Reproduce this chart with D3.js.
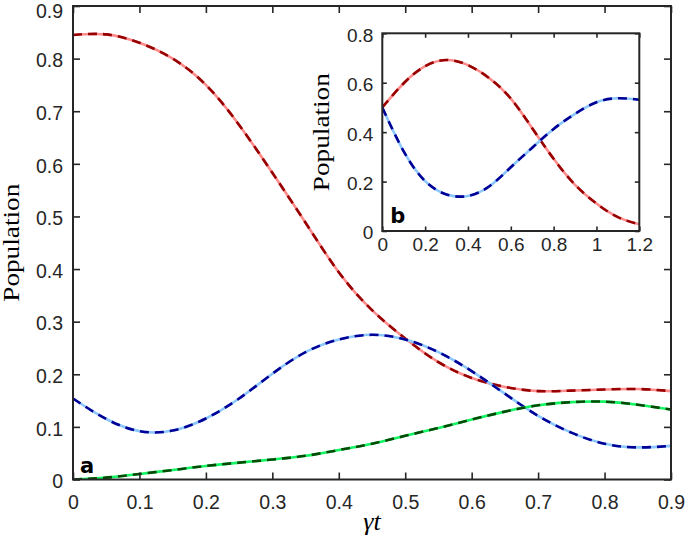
<!DOCTYPE html>
<html>
<head>
<meta charset="utf-8">
<script src="https://cdn.jsdelivr.net/npm/d3@7"></script>
<style>
  body { margin: 0; background: #fff; }
  svg { display: block; }
  .tick text { font-family: "Liberation Sans", Arial, sans-serif; fill: #262626; }
</style>
</head>
<body>
<svg id="chart" width="685" height="546"></svg>
<script>
// main panel (a)
const tMain = [0, 0.05, 0.1, 0.15, 0.2, 0.25, 0.3, 0.35, 0.4, 0.45, 0.5, 0.55, 0.6, 0.65, 0.7, 0.75, 0.8, 0.85, 0.9];
const redMain = [0.845, 0.846, 0.830, 0.800, 0.750, 0.674, 0.583, 0.488, 0.394, 0.322, 0.268, 0.223, 0.193, 0.176, 0.168, 0.169, 0.171, 0.172, 0.168];
const blueMain = [0.154, 0.115, 0.092, 0.093, 0.116, 0.154, 0.201, 0.242, 0.266, 0.275, 0.266, 0.242, 0.206, 0.163, 0.121, 0.089, 0.068, 0.061, 0.064];
const greenMain = [0, 0.0035, 0.0105, 0.018, 0.0257, 0.032, 0.038, 0.045, 0.056, 0.068, 0.083, 0.098, 0.114, 0.129, 0.141, 0.147, 0.148, 0.142, 0.133];
const mainXTicks = [0, 0.1, 0.2, 0.3, 0.4, 0.5, 0.6, 0.7, 0.8, 0.9];
const mainYTicks = [0, 0.1, 0.2, 0.3, 0.4, 0.5, 0.6, 0.7, 0.8, 0.9];

// inset panel (b)
const tInset = [0, 0.1, 0.2, 0.3, 0.4, 0.5, 0.6, 0.7, 0.8, 0.9, 1.0, 1.1, 1.2];
const redInset = [0.5, 0.598, 0.667, 0.692, 0.671, 0.618, 0.536, 0.416, 0.292, 0.187, 0.111, 0.056, 0.027];
const blueInset = [0.5, 0.322, 0.202, 0.148, 0.142, 0.181, 0.258, 0.337, 0.413, 0.474, 0.521, 0.537, 0.531];
const insetXTicks = [0, 0.2, 0.4, 0.6, 0.8, 1, 1.2];
const insetYTicks = [0, 0.2, 0.4, 0.6, 0.8];

const colors = {
  red: { light: '#ff8c8c', dark: '#960000' },
  blue: { light: '#8cc8ff', dark: '#000096' },
  green: { light: '#14f564', dark: '#064a06' }
};
const axisColor = '#262626';
const fmt = d3.format('~g');

const svg = d3.select('#chart');

function drawPanel(cfg) {
  const x = d3.scaleLinear().domain(cfg.xDomain).range([cfg.left, cfg.right]);
  const y = d3.scaleLinear().domain(cfg.yDomain).range([cfg.bottom, cfg.top]);
  const g = svg.append('g');

  g.append('rect')
    .attr('x', cfg.left).attr('y', cfg.top)
    .attr('width', cfg.right - cfg.left).attr('height', cfg.bottom - cfg.top)
    .attr('fill', '#fff');

  const line = d3.line()
    .x(d => x(d[0]))
    .y(d => y(d[1]))
    .curve(d3.curveNatural);

  const clipId = 'clip-' + cfg.name;
  g.append('clipPath').attr('id', clipId)
    .append('rect')
    .attr('x', cfg.left).attr('y', cfg.top - 2)
    .attr('width', cfg.right - cfg.left).attr('height', cfg.bottom - cfg.top + 2);

  const lines = g.append('g').attr('clip-path', `url(#${clipId})`);
  cfg.series.forEach(s => {
    const pts = cfg.t.map((t, i) => [t, s.values[i]]);
    lines.append('path')
      .attr('d', line(pts))
      .attr('fill', 'none')
      .attr('stroke', s.color.light)
      .attr('stroke-width', 2.6);
    lines.append('path')
      .attr('d', line(pts))
      .attr('fill', 'none')
      .attr('stroke', s.color.dark)
      .attr('stroke-width', 2.6)
      .attr('stroke-dasharray', cfg.dash);
  });

  const ts = cfg.tickSize;
  const styleAxis = sel => {
    sel.select('.domain').remove();
    sel.selectAll('.tick line').attr('stroke', axisColor).attr('stroke-width', 1.6);
    sel.selectAll('.tick text').style('font-size', cfg.fontSize + 'px');
  };

  g.append('g')
    .attr('transform', `translate(0,${cfg.bottom})`)
    .call(d3.axisBottom(x).tickValues(cfg.xTicks).tickFormat(fmt)
      .tickSizeInner(-ts).tickSizeOuter(0).tickPadding(cfg.xPad))
    .call(styleAxis);
  g.append('g')
    .attr('transform', `translate(0,${cfg.top})`)
    .call(d3.axisTop(x).tickValues(cfg.xTicks).tickFormat('')
      .tickSizeInner(-ts).tickSizeOuter(0))
    .call(styleAxis);
  const yAx = g.append('g')
    .attr('transform', `translate(${cfg.left},0)`)
    .call(d3.axisLeft(y).tickValues(cfg.yTicks).tickFormat(fmt)
      .tickSizeInner(-ts).tickSizeOuter(0).tickPadding(cfg.yPad))
    .call(styleAxis);
  yAx.selectAll('.tick text')
    .attr('dy', d => (cfg.nudgeTop && d === cfg.yDomain[1]) ? '11px' : '0.42em');
  g.append('g')
    .attr('transform', `translate(${cfg.right},0)`)
    .call(d3.axisRight(y).tickValues(cfg.yTicks).tickFormat('')
      .tickSizeInner(-ts).tickSizeOuter(0))
    .call(styleAxis);

  g.append('rect')
    .attr('x', cfg.left).attr('y', cfg.top)
    .attr('width', cfg.right - cfg.left).attr('height', cfg.bottom - cfg.top)
    .attr('fill', 'none')
    .attr('stroke', axisColor)
    .attr('stroke-width', 2);

  // panel letter
  g.append('text')
    .attr('x', cfg.left + cfg.letterDx)
    .attr('y', cfg.bottom - cfg.letterDy)
    .attr('font-family', '"DejaVu Sans", sans-serif')
    .attr('font-weight', 'bold')
    .attr('font-size', 21)
    .attr('fill', '#000')
    .text(cfg.letter);

  // y label
  g.append('text')
    .attr('transform', `translate(${cfg.yLabelX},${(cfg.top + cfg.bottom) / 2}) rotate(-90)`)
    .attr('text-anchor', 'middle')
    .attr('font-family', '"Liberation Serif", "Times New Roman", serif')
    .attr('font-size', 23)
    .attr('textLength', 118)
    .attr('lengthAdjust', 'spacingAndGlyphs')
    .attr('fill', '#000')
    .text('Population');

  return { x, y };
}

drawPanel({
  name: 'main',
  left: 73, right: 671, top: 6, bottom: 479.5,
  xDomain: [0, 0.9], yDomain: [0, 0.9],
  xTicks: mainXTicks, yTicks: mainYTicks,
  t: tMain,
  series: [
    { values: redMain, color: colors.red },
    { values: blueMain, color: colors.blue },
    { values: greenMain, color: colors.green }
  ],
  dash: '9,6',
  tickSize: 7, fontSize: 19.5, xPad: 16, yPad: 10, nudgeTop: true,
  letter: 'a', letterDx: 7, letterDy: 7,
  yLabelX: 19
});

drawPanel({
  name: 'inset',
  left: 382.3, right: 639.3, top: 33.3, bottom: 231,
  xDomain: [0, 1.2], yDomain: [0, 0.8],
  xTicks: insetXTicks, yTicks: insetYTicks,
  t: tInset,
  series: [
    { values: redInset, color: colors.red },
    { values: blueInset, color: colors.blue }
  ],
  dash: '9,6',
  tickSize: 4.5, fontSize: 19, xPad: 7, yPad: 9, nudgeTop: false,
  letter: 'b', letterDx: 8, letterDy: 8,
  yLabelX: 329
});

// x label
svg.append('text')
  .attr('x', 372)
  .attr('y', 530)
  .attr('text-anchor', 'middle')
  .attr('font-family', '"Liberation Serif", "Times New Roman", serif')
  .attr('font-style', 'italic')
  .attr('font-size', 26)
  .attr('fill', '#000')
  .text('γt');
</script>
</body>
</html>
